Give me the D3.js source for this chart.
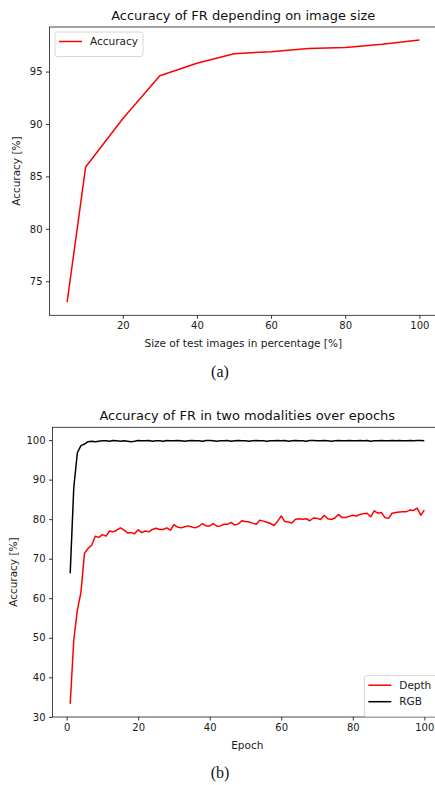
<!DOCTYPE html>
<html>
<head>
<meta charset="utf-8">
<script src="https://cdn.jsdelivr.net/npm/d3@7"></script>
<style>
body { margin: 0; background: #fff; }
svg { display: block; font-family: "DejaVu Sans", sans-serif; }
</style>
</head>
<body>
<div id="chart"></div>
<script>
// panel (a): accuracy vs. test image size
const sizes = [5, 10, 20, 30, 40, 50, 60, 70, 80, 90, 100];
const sizeAccuracy = [73.0, 85.9, 90.5, 94.6, 95.8, 96.7, 96.9, 97.2, 97.3, 97.6, 98.0];
const sizeTicksX = [20, 40, 60, 80, 100];
const sizeTicksY = [75, 80, 85, 90, 95];

// panel (b): accuracy per epoch
const epochs = d3.range(1, 101);
const depth = [
  33.3, 49.5, 57.0, 61.5, 71.4, 72.6, 73.4, 75.7, 75.4, 76.1,
  75.7, 77.0, 76.8, 77.2, 77.8, 77.3, 76.5, 76.6, 76.3, 77.3,
  76.6, 77.0, 76.8, 77.4, 77.7, 77.4, 77.4, 77.8, 77.2, 78.6,
  78.0, 77.8, 78.1, 78.3, 78.0, 77.8, 78.2, 78.9, 78.3, 78.3,
  78.9, 78.2, 78.3, 78.7, 78.7, 79.2, 78.5, 78.8, 79.6, 79.4,
  79.3, 79.0, 78.7, 79.7, 79.5, 79.2, 78.9, 78.4, 79.5, 80.8,
  79.4, 79.3, 79.0, 80.0, 80.1, 80.0, 80.1, 79.6, 80.3, 80.2,
  79.9, 81.0, 80.1, 79.9, 80.3, 81.2, 80.4, 80.4, 80.7, 81.0,
  80.8, 81.2, 81.4, 81.5, 80.6, 82.1, 81.5, 81.7, 80.4, 80.2,
  81.5, 81.7, 81.8, 81.9, 81.9, 82.3, 82.2, 82.8, 81.0, 82.3
];
const rgb = [
  66.3, 88.0, 96.8, 98.6, 99.0, 99.6, 99.7, 99.6, 99.7, 99.8,
  99.8, 99.7, 99.9, 99.8, 99.7, 99.8, 99.7, 99.6, 99.7, 99.9,
  99.8, 99.8, 99.9, 99.7, 99.8, 99.8, 99.7, 99.9, 99.8, 99.8,
  99.9, 99.8, 99.7, 99.8, 99.9, 99.8, 99.8, 99.7, 99.9, 99.9,
  99.8, 99.7, 99.8, 99.8, 99.9, 99.7, 99.8, 99.9, 99.8, 99.8,
  99.7, 99.8, 99.9, 99.8, 99.8, 99.7, 99.8, 99.8, 99.9, 99.8,
  99.9, 99.7, 99.8, 99.9, 99.8, 99.8, 99.7, 99.9, 99.9, 99.8,
  99.8, 99.9, 99.8, 99.7, 99.8, 99.9, 99.8, 99.8, 99.9, 99.8,
  99.8, 99.9, 99.8, 99.9, 99.7, 99.8, 99.8, 99.9, 99.8, 99.8,
  99.9, 99.8, 99.9, 99.8, 99.8, 99.9, 99.8, 99.9, 99.9, 99.8
];
const epochTicksX = [0, 20, 40, 60, 80, 100];
const epochTicksY = [30, 40, 50, 60, 70, 80, 90, 100];

const W = 435, H = 785;
const svg = d3.select("#chart").append("svg")
  .attr("width", W)
  .attr("height", H);

// matplotlib style auto limits (5% padding)
function padded(vals) {
  const lo = d3.min(vals), hi = d3.max(vals);
  const m = (hi - lo) * 0.05;
  return [lo - m, hi + m];
}

function panel(p) {
  const g = svg.append("g");
  const x = d3.scaleLinear().domain(padded(p.xs)).range([p.left, p.right]);
  const y = d3.scaleLinear().domain(padded(p.series.flatMap(s => s.values))).range([p.bottom, p.top]);

  const clipId = "clip" + p.id;
  g.append("clipPath").attr("id", clipId)
    .append("rect")
    .attr("x", p.left).attr("y", p.top)
    .attr("width", p.right - p.left).attr("height", p.bottom - p.top);

  const line = d3.line().x((d, i) => x(p.xs[i])).y(d => y(d));
  p.series.forEach(s => {
    g.append("path")
      .datum(s.values)
      .attr("clip-path", `url(#${clipId})`)
      .attr("fill", "none")
      .attr("stroke", s.color)
      .attr("stroke-width", 1.5)
      .attr("stroke-linejoin", "round")
      .attr("d", line);
  });

  const xAxis = g.append("g")
    .attr("transform", `translate(0,${p.bottom})`)
    .call(d3.axisBottom(x).tickValues(p.xTicks).tickSize(3.5).tickPadding(3.5).tickFormat(d3.format("d")));
  const yAxis = g.append("g")
    .attr("transform", `translate(${p.left},0)`)
    .call(d3.axisLeft(y).tickValues(p.yTicks).tickSize(3.5).tickPadding(3.5).tickFormat(d3.format("d")));
  [xAxis, yAxis].forEach(a => {
    a.select(".domain").remove();
    a.selectAll("line").attr("stroke", "#000").attr("stroke-width", 0.8);
    a.selectAll("text").attr("fill", "#1a1a1a").style("font-size", "10px").style("font-family", "DejaVu Sans");
  });

  g.append("rect")
    .attr("x", p.left).attr("y", p.top)
    .attr("width", p.right - p.left).attr("height", p.bottom - p.top)
    .attr("fill", "none").attr("stroke", "#1a1a1a").attr("stroke-width", 0.8);

  g.append("text")
    .attr("x", (p.left + p.right) / 2).attr("y", p.top - 7.5)
    .attr("text-anchor", "middle")
    .attr("fill", "#111")
    .style("font-size", "13px")
    .text(p.title);

  g.append("text")
    .attr("x", (p.left + p.right) / 2).attr("y", p.bottom + 31.5)
    .attr("text-anchor", "middle")
    .attr("fill", "#1a1a1a")
    .style("font-size", "10.5px")
    .text(p.xLabel);

  g.append("text")
    .attr("transform", `translate(${p.yLabelX},${(p.top + p.bottom) / 2}) rotate(-90)`)
    .attr("text-anchor", "middle")
    .attr("fill", "#1a1a1a")
    .style("font-size", "10.5px")
    .text(p.yLabel);

  // legend
  const lg = g.append("g");
  lg.append("rect")
    .attr("x", p.legend.x).attr("y", p.legend.y)
    .attr("width", p.legend.w).attr("height", 8 + p.series.length * 16.5)
    .attr("rx", 2.5)
    .attr("fill", "#fff").attr("fill-opacity", 0.8)
    .attr("stroke", "#ccc").attr("stroke-width", 0.8);
  p.series.forEach((s, i) => {
    const ly = p.legend.y + 9.5 + i * 16.5;
    lg.append("line")
      .attr("x1", p.legend.x + 4).attr("x2", p.legend.x + 27)
      .attr("y1", ly).attr("y2", ly)
      .attr("stroke", s.color).attr("stroke-width", 1.5);
    lg.append("text")
      .attr("x", p.legend.x + 35).attr("y", ly + 3.6)
      .attr("fill", "#1a1a1a")
      .style("font-size", "10.5px")
      .text(s.name);
  });

  svg.append("text")
    .attr("x", p.captionX).attr("y", p.captionY)
    .attr("text-anchor", "middle")
    .attr("fill", "#111")
    .style("font-family", "'Liberation Serif', serif")
    .style("font-size", "16px")
    .text(p.caption);
}

panel({
  id: "a",
  left: 49.5, right: 437, top: 27, bottom: 315.3,
  xs: sizes,
  series: [{ name: "Accuracy", color: "red", values: sizeAccuracy }],
  xTicks: sizeTicksX, yTicks: sizeTicksY,
  title: "Accuracy of FR depending on image size",
  xLabel: "Size of test images in percentage [%]",
  yLabel: "Accuracy [%]", yLabelX: 20,
  legend: { x: 55, y: 32, w: 88 },
  caption: "(a)", captionX: 220, captionY: 377
});

panel({
  id: "b",
  left: 52.5, right: 442, top: 427.3, bottom: 717,
  xs: epochs,
  series: [
    { name: "Depth", color: "red", values: depth },
    { name: "RGB", color: "black", values: rgb }
  ],
  xTicks: epochTicksX, yTicks: epochTicksY,
  title: "Accuracy of FR in two modalities over epochs",
  xLabel: "Epoch",
  yLabel: "Accuracy [%]", yLabelX: 17,
  legend: { x: 364.3, y: 675.7, w: 80 },
  caption: "(b)", captionX: 220, captionY: 778
});
</script>
</body>
</html>
